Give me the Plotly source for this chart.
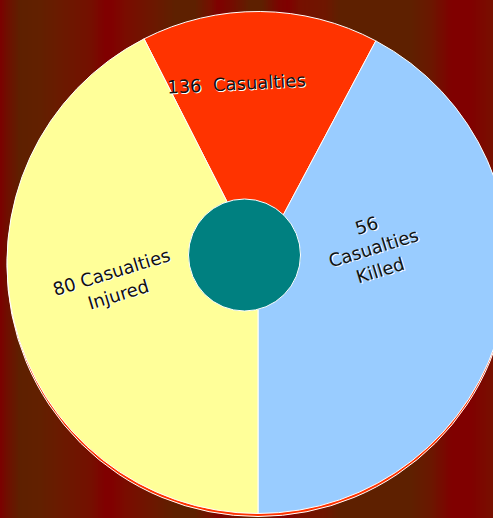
import plotly.graph_objects as go

# ---- data ----
slice_names = ["Casualties", "Killed", "Injured"]
slice_degrees = [55, 152, 153]          # visible angular size of each slice
casualty_counts = [136, 56, 80]
slice_colors = ["#FF3300", "#99CCFF", "#FFFF99"]

label_texts = [
    f"{casualty_counts[0]}  Casualties",
    f"{casualty_counts[1]}<br>Casualties<br>Killed",
    f"{casualty_counts[2]} Casualties<br>Injured",
]

# ---- layout / style ----
W, H = 515, 518          # figure is slightly wider than the 493px view; the pie runs off the right edge
label_pos = [(236, 83, -3), (373, 248, -17), (115, 283, -17)]  # px x, px y, angle

stripe_keys = [
    (0, "#7c0000"), (8, "#6e1000"), (20, "#5e2000"), (40, "#622000"),
    (60, "#6a1a00"), (90, "#741000"), (105, "#800000"), (112, "#800000"),
    (125, "#7a0c00"), (150, "#6e1600"), (175, "#5e2000"), (195, "#5e2000"),
    (210, "#741000"), (218, "#800000"), (232, "#740c00"), (250, "#5e2000"),
    (262, "#5e2000"), (278, "#7a0500"), (288, "#800000"), (300, "#761000"),
    (325, "#6e1600"), (340, "#5e2000"), (410, "#5e2000"), (430, "#6a1800"),
    (452, "#800000"), (470, "#800000"), (493, "#781000"), (515, "#6a1500"),
]


def hex2rgb(h):
    h = h.lstrip("#")
    return tuple(int(h[i:i + 2], 16) for i in (0, 2, 4))


def color_at(x):
    for (x0, c0), (x1, c1) in zip(stripe_keys[:-1], stripe_keys[1:]):
        if x0 <= x <= x1:
            t = 0 if x1 == x0 else (x - x0) / (x1 - x0)
            a, b = hex2rgb(c0), hex2rgb(c1)
            return "rgb(%d,%d,%d)" % tuple(round(a[i] + (b[i] - a[i]) * t) for i in range(3))
    return stripe_keys[-1][1]


shapes = []
step = 2
for x in range(0, W, step):
    shapes.append(dict(type="rect", xref="paper", yref="paper",
                       x0=x / W, x1=min(x + step, W) / W + 0.001, y0=0, y1=1,
                       fillcolor=color_at(x + step / 2), line=dict(width=0),
                       layer="below"))

# teal hub
cx, cy, cr = 244.5, 255, 56
shapes.append(dict(type="circle", xref="paper", yref="paper",
                   x0=(cx - cr) / W, x1=(cx + cr) / W,
                   y0=1 - (cy + cr) / H, y1=1 - (cy - cr) / H,
                   fillcolor="#008080", line=dict(color="white", width=1),
                   layer="above"))

pcx, pcy, pr = 258, 262.5, 251
dom_x = [(pcx - pr) / W, (pcx + pr) / W]
dom_y = [1 - (pcy + pr) / H, 1 - (pcy - pr) / H]
sh = 3 / H

fig = go.Figure()
# shadow disc
fig.add_trace(go.Pie(
    values=[sum(slice_degrees)], labels=["shadow"], sort=False,
    marker=dict(colors=["#FF3300"], line=dict(color="white", width=1)),
    textinfo="none", hoverinfo="skip", showlegend=False,
    domain=dict(x=dom_x, y=[dom_y[0] - sh, dom_y[1] - sh]),
))
fig.add_trace(go.Pie(
    values=slice_degrees, labels=slice_names, sort=False,
    direction="clockwise", rotation=-27,
    marker=dict(colors=slice_colors, line=dict(color="white", width=1)),
    textinfo="none", showlegend=False,
    domain=dict(x=dom_x, y=dom_y),
))

annotations = []
for txt, (px, py, ang) in zip(label_texts, label_pos):
    annotations.append(dict(
        text=txt, x=px / W, y=1 - py / H, xref="paper", yref="paper",
        showarrow=False, textangle=ang, xanchor="center", yanchor="middle",
        font=dict(family="DejaVu Sans", size=18, color="#111111",
                  shadow="1px 1px 0px white"),
    ))

fig.update_layout(
    width=W, height=H, margin=dict(l=0, r=0, t=0, b=0),
    paper_bgcolor="#5e2000", plot_bgcolor="#5e2000",
    shapes=shapes, annotations=annotations, showlegend=False,
)

fig.write_html(
    "out.html",
    config={"displayModeBar": False},
    post_script="document.body.style.margin='0';document.body.style.overflow='hidden';",
)
